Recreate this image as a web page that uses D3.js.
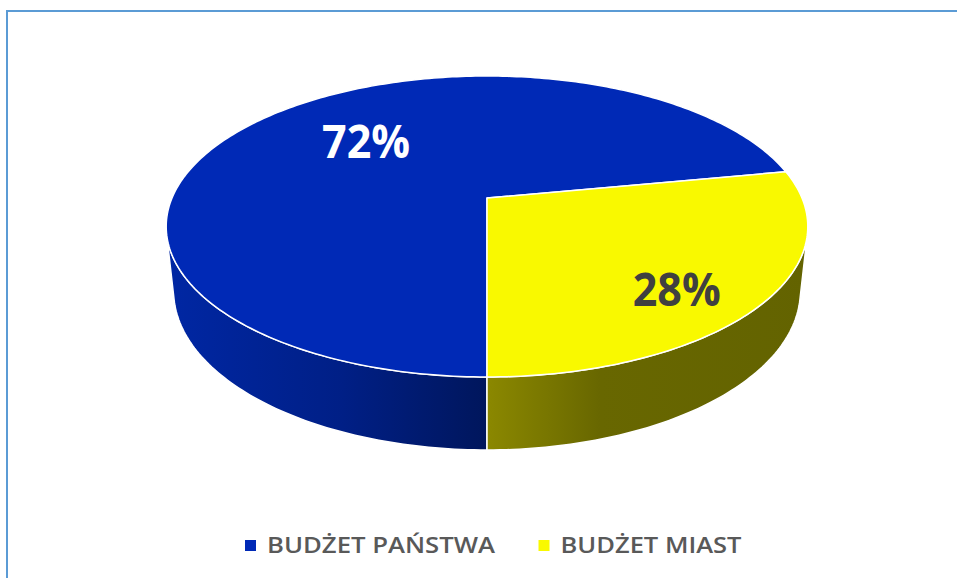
<!DOCTYPE html>
<html>
<head>
<meta charset="utf-8">
<script src="https://cdn.jsdelivr.net/npm/d3@7"></script>
<style>
  body { margin: 0; background: #fff; }
  svg { display: block; }
</style>
</head>
<body>
<div id="chart"></div>
<script>
// data
const categories = ["BUDŻET PAŃSTWA", "BUDŻET MIAST"];
const values = [72, 28];
const valueLabels = ["72%", "28%"];
const colors = ["#0029b6", "#f9f900"];

const width = 957;
const height = 578;

// perspective camera for the 3d pie
const cam = {cx: 487, cy: 198, f: 1477, dist: 4.689, tilt: 27.43 * Math.PI / 180, depth: 0.2323};
const sinT = Math.sin(cam.tilt), cosT = Math.cos(cam.tilt);

// theta clockwise from the far point, r in pie radii, y height (0 = top face)
function project(theta, r, y) {
    const X = r * Math.sin(theta), Z = r * Math.cos(theta);
    const yc = y * cosT + Z * sinT;
    const zc = -y * sinT + Z * cosT + cam.dist;
    return [cam.cx + cam.f * X / zc, cam.cy - cam.f * yc / zc];
}

function arcPoints(a0, a1, y) {
    const n = Math.max(2, Math.ceil(Math.abs(a1 - a0) / (Math.PI / 180)));
    return d3.range(n + 1).map(i => project(a0 + (a1 - a0) * i / n, 1, y));
}

const svg = d3.select("#chart")
    .append("svg")
        .attr("width", width)
        .attr("height", height);

// chart border
svg.append("rect")
    .attr("x", 7).attr("y", 11)
    .attr("width", 1000).attr("height", 1000)
    .attr("fill", "none")
    .attr("stroke", "#5b9bd5")
    .attr("stroke-width", 2);

const defs = svg.append("defs");
const wallGrad = [
    {id: "wall0", x1: 165, x2: 487, stops: [[0, "#0027a4"], [0.55, "#001f86"], [1, "#00165c"]]},
    {id: "wall1", x1: 487, x2: 809, stops: [[0, "#8b8800"], [0.35, "#686700"], [1, "#636300"]]}
];
wallGrad.forEach(g => {
    const lg = defs.append("linearGradient")
        .attr("id", g.id)
        .attr("gradientUnits", "userSpaceOnUse")
        .attr("x1", g.x1).attr("x2", g.x2)
        .attr("y1", 0).attr("y2", 0);
    g.stops.forEach(s => lg.append("stop").attr("offset", s[0]).attr("stop-color", s[1]));
});

const pie = d3.pie().sort(null)
    .startAngle(Math.PI)
    .endAngle(3 * Math.PI);
const slices = pie(values);

const line = d3.line();

// half width of the visible outer wall around the near point
const beta = Math.acos(1 / (cam.dist * cosT));

// outer walls
slices.forEach((s, i) => {
    [-2, 0, 2].forEach(k => {
        const lo = Math.max(s.startAngle, Math.PI - beta + k * Math.PI);
        const hi = Math.min(s.endAngle, Math.PI + beta + k * Math.PI);
        if (hi <= lo) return;
        const pts = arcPoints(lo, hi, 0).concat(arcPoints(hi, lo, -cam.depth));
        svg.append("path")
            .attr("d", line(pts) + "Z")
            .attr("fill", "url(#wall" + i + ")")
            .attr("stroke", "#fff")
            .attr("stroke-width", 1.5)
            .attr("stroke-linejoin", "round");
    });
});

// top face
svg.selectAll(".slice")
    .data(slices)
    .enter().append("path")
        .attr("class", "slice")
        .attr("d", d => line([project(0, 0, 0)].concat(arcPoints(d.startAngle, d.endAngle, 0))) + "Z")
        .attr("fill", (d, i) => colors[i])
        .attr("stroke", "#fff")
        .attr("stroke-width", 1.5)
        .attr("stroke-linejoin", "round");

// data labels
const labelPos = [{r: 0.59, turn: 0.101}, {r: 0.78, turn: 0.119}];
const labelColor = ["#ffffff", "#404040"];
svg.selectAll(".vlabel")
    .data(slices)
    .enter().append("text")
        .attr("class", "vlabel")
        .attr("x", (d, i) => project((d.startAngle + d.endAngle) / 2 + labelPos[i].turn, labelPos[i].r, 0)[0])
        .attr("y", (d, i) => project((d.startAngle + d.endAngle) / 2 + labelPos[i].turn, labelPos[i].r, 0)[1] + 16.5)
        .attr("text-anchor", "middle")
        .attr("font-family", "'Open Sans', sans-serif")
        .attr("font-weight", 700)
        .attr("font-size", 46)
        .attr("textLength", 88)
        .attr("lengthAdjust", "spacingAndGlyphs")
        .attr("fill", (d, i) => labelColor[i])
        .text((d, i) => valueLabels[i]);

// legend
const legendX = [245, 538.5];
const legendW = [228, 181];
const legend = svg.selectAll(".legend")
    .data(categories)
    .enter().append("g")
        .attr("class", "legend")
        .attr("transform", (d, i) => "translate(" + legendX[i] + ",540)");
legend.append("rect")
    .attr("width", 11).attr("height", 11)
    .attr("fill", (d, i) => colors[i]);
legend.append("text")
    .attr("x", 22).attr("y", 12.5)
    .attr("font-family", "'Open Sans', sans-serif")
    .attr("font-weight", 600)
    .attr("font-size", 21)
    .attr("textLength", (d, i) => legendW[i])
    .attr("lengthAdjust", "spacingAndGlyphs")
    .attr("fill", "#595959")
    .text(d => d);
</script>
</body>
</html>
